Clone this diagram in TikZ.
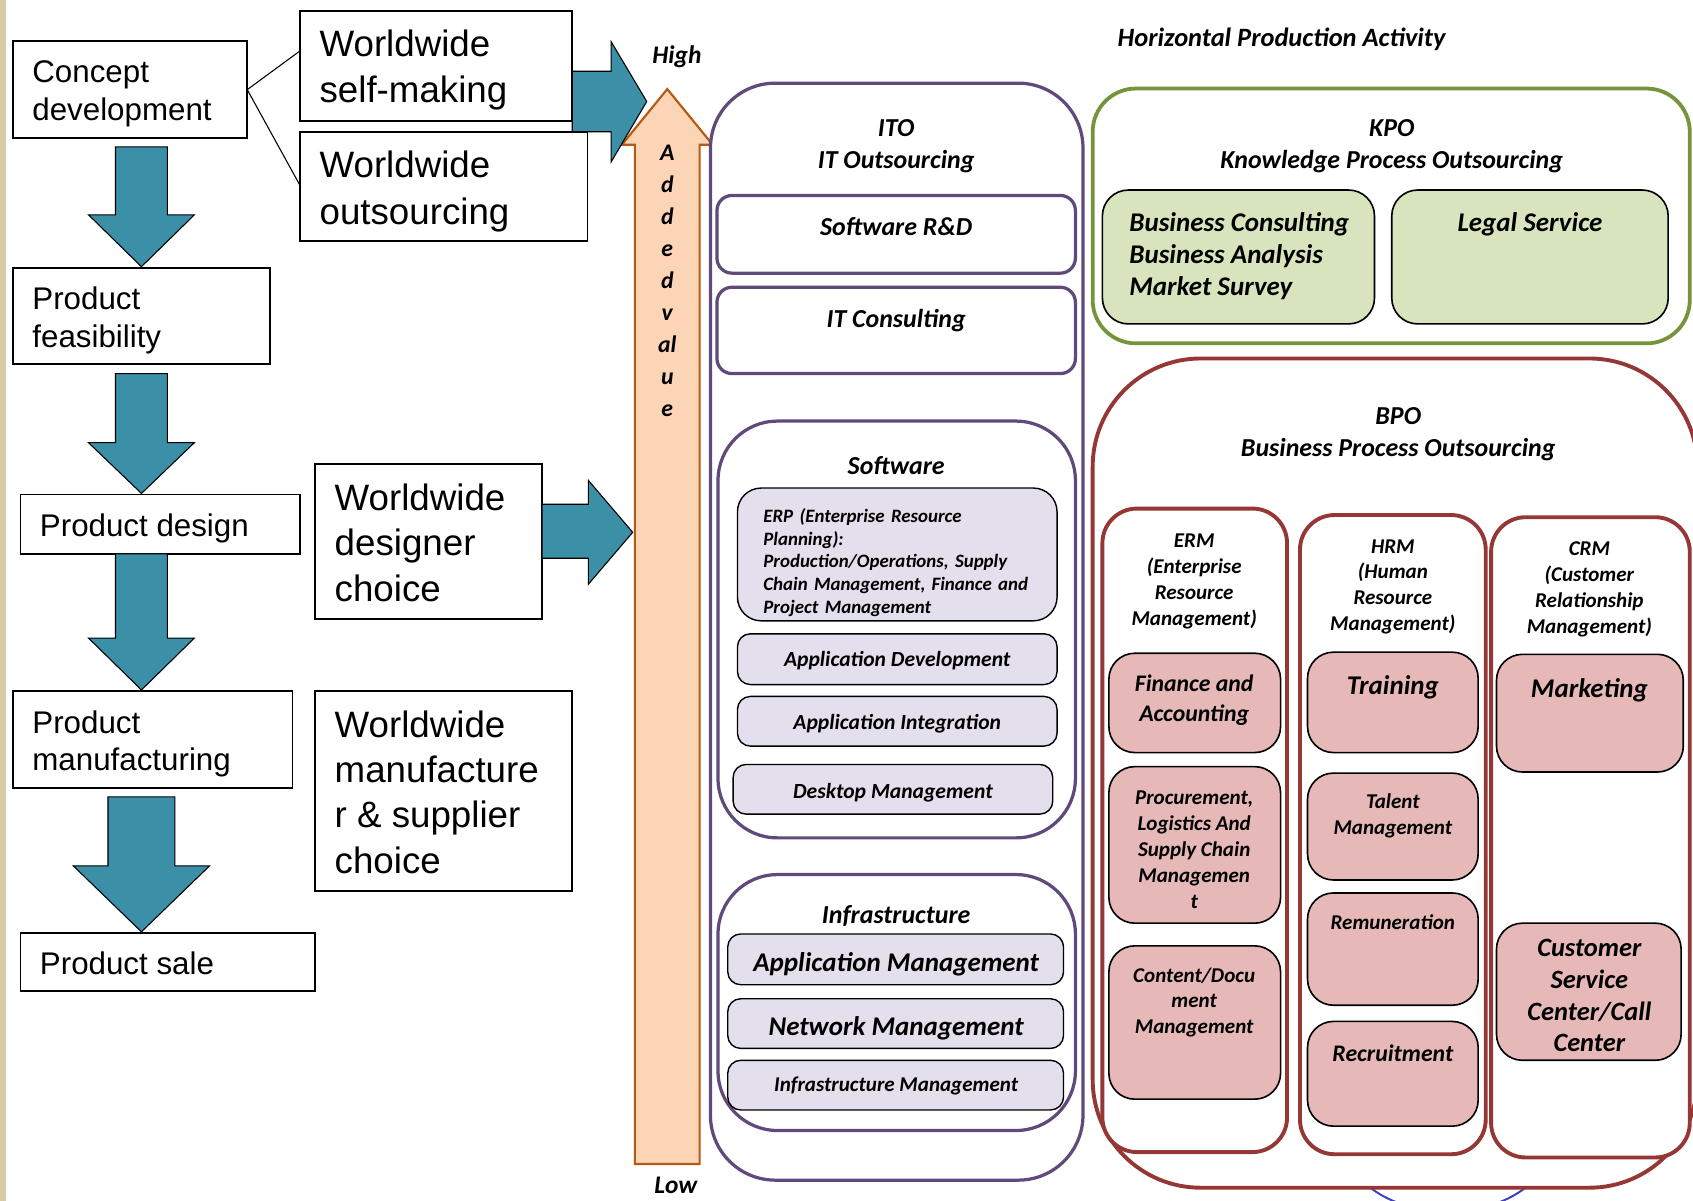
\documentclass[tikz,border=0pt]{standalone}
\usepackage{fontspec}
\setmainfont{Carlito}
\newfontfamily\arialf{Liberation Sans}
\usetikzlibrary{calc}
\definecolor{tealA}{HTML}{3B8FA6}
\definecolor{purpA}{HTML}{604A7B}
\definecolor{lavA}{HTML}{E4DFEC}
\definecolor{grnA}{HTML}{77933C}
\definecolor{grnF}{HTML}{D7E4BD}
\definecolor{redA}{HTML}{953735}
\definecolor{pinkF}{HTML}{E6B9B8}
\definecolor{peachF}{HTML}{FBD5B5}
\definecolor{brownA}{HTML}{B65A12}
\definecolor{beigeA}{HTML}{D8CBA6}
\definecolor{blueA}{HTML}{3B3FC4}
\newcommand\cfnt[2]{\fontsize{#1}{#2}\selectfont\bfseries\itshape}
\newcommand\afnt[2]{\arialf\fontsize{#1}{#2}\selectfont}
\begin{document}
\begin{tikzpicture}[x=1pt,y=-1pt,
  base/.style={inner sep=0pt,outer sep=0pt,anchor=north west},
  lbox/.style={base,draw=black,line width=1.5pt,fill=white},
  ltxt/.style={inner sep=0pt,outer sep=0pt,anchor=west,align=left},
  tealarr/.style={fill=tealA,draw=black,line width=1pt,line join=miter},
  pbox/.style={base,draw=purpA,line width=3pt,fill=white},
  lav/.style={base,draw=black,line width=1.3pt,fill=lavA,rounded corners=12pt},
  gbox/.style={base,draw=black,line width=1.5pt,fill=grnF,rounded corners=24pt},
  rcol/.style={base,draw=redA,line width=3.6pt,fill=white,rounded corners=32pt},
  pk/.style={base,draw=black,line width=1.5pt,fill=pinkF,rounded corners=24pt},
  txt/.style={inner sep=0pt,outer sep=0pt,align=center}]
\useasboundingbox (0,0) rectangle (1568,1112);
\clip (0,0) rectangle (1568,1112);
\fill[white] (0,0) rectangle (1568,1112);
\fill[beigeA] (0,0) rectangle (5.5,1112);

% ---------- left column ----------
\node[lbox,minimum width=217pt,minimum height=90pt] (cd) at (12,38) {};
\node[ltxt,font={\afnt{29}{35}}] (cdt) at ($(cd.west)+(18,4)$) {Concept\\development};
\node[lbox,minimum width=252pt,minimum height=102pt] (wsm) at (278,10) {};
\node[ltxt,font={\afnt{34}{43}}] (wsmt) at ($(wsm.west)+(18,4)$) {Worldwide\\self-making};
\node[lbox,minimum width=266pt,minimum height=101pt] (wo) at (278,122) {};
\node[ltxt,font={\afnt{34}{43}}] (wot) at ($(wo.west)+(18,5)$) {Worldwide\\outsourcing};
\node[lbox,minimum width=238pt,minimum height=89pt] (pf) at (12,248) {};
\node[ltxt,font={\afnt{29}{35}}] (pft) at ($(pf.west)+(18,4)$) {Product\\feasibility};
\node[lbox,minimum width=259pt,minimum height=55pt] (pd) at (19,458) {};
\node[ltxt,font={\afnt{29}{35}}] (pdt) at ($(pd.west)+(18,3.5)$) {Product design};
\node[lbox,minimum width=259pt,minimum height=90pt] (pm) at (12,640) {};
\node[ltxt,font={\afnt{29}{35}}] (pmt) at ($(pm.west)+(18,4)$) {Product\\manufacturing};
\node[lbox,minimum width=273pt,minimum height=54pt] (ps) at (19,864) {};
\node[ltxt,font={\afnt{29}{35}}] (pst) at ($(ps.west)+(18,1.5)$) {Product sale};
\node[lbox,minimum width=210pt,minimum height=143pt] (wdc) at (292,430) {};
\node[ltxt,font={\afnt{34}{42}}] (wdct) at ($(wdc.west)+(18,1)$) {Worldwide\\designer\\choice};
\node[lbox,minimum width=238pt,minimum height=185pt] (wmc) at (292,640) {};
\node[ltxt,font={\afnt{34}{42}}] (wmct) at ($(wmc.west)+(18,1)$) {Worldwide\\manufacture\\r \& supplier\\choice};

\draw[line width=1pt] (cd.east) -- ($(wsm.north west)!0.363!(wsm.south west)$);
\draw[line width=1pt] (cd.east) -- ($(wo.north west)!0.495!(wo.south west)$);

% teal down arrows
\draw[tealarr] (107,136) -- (155,136) -- (155,199) -- (180,199) -- (131,247) -- (82,199) -- (107,199) -- cycle;
\draw[tealarr] (107,346) -- (155,346) -- (155,410) -- (180,410) -- (131,457) -- (82,410) -- (107,410) -- cycle;
\draw[tealarr] (107,513) -- (155,513) -- (155,591) -- (180,591) -- (131,639) -- (82,591) -- (107,591) -- cycle;
\draw[tealarr] (100,738) -- (162,738) -- (162,802) -- (194,802) -- (131,863) -- (68,802) -- (100,802) -- cycle;

% orange added-value arrow
\draw[fill=peachF,draw=brownA,line width=2pt,line join=miter] (588,1078) -- (588,134) -- (576,134) -- (618,82.5) -- (660,134) -- (648,134) -- (648,1078) -- cycle;
\node[txt,font={\cfnt{22}{29.6}}] (av) at (618,260) {A\\d\\d\\e\\d\\v\\al\\u\\e};
\node[txt,font={\cfnt{23.5}{28}}] (high) at (627,53) {High};
\node[txt,font={\cfnt{23.5}{28}}] (low) at (626,1098) {Low};

% teal right arrows
\draw[tealarr] (502,467) -- (545,467) -- (545,445) -- (586,493) -- (545,541) -- (545,517) -- (502,517) -- cycle;
\draw[tealarr] (530,66) -- (566,66) -- (566,38.6) -- (599,94) -- (566,150) -- (566,122) -- (530,122) -- cycle;

% ---------- ITO ----------
\node[pbox,rounded corners=60pt,minimum width=345pt,minimum height=1016pt] (ito) at (658,77) {};
\node[txt,font={\cfnt{24}{30}}] (itot) at (830,135.5) {ITO\\IT Outsourcing};
\node[pbox,rounded corners=14pt,minimum width=332pt,minimum height=72pt] (srd) at (664,181) {};
\node[txt,font={\cfnt{24}{30}}] (srdt) at (830,209.5) {Software R\&D};
\node[pbox,rounded corners=14pt,minimum width=332pt,minimum height=80pt] (itc) at (664,266) {};
\node[txt,font={\cfnt{24}{30}}] (itct) at (830,297) {IT Consulting};
\node[pbox,rounded corners=55pt,minimum width=331pt,minimum height=386pt] (sw) at (665,390) {};
\node[txt,font={\cfnt{24}{30}}] (swt) at (830,431) {Software};
\node[lav,rounded corners=22pt,minimum width=296pt,minimum height=123pt] (erp) at (683,452) {};
\node[ltxt,text width=268pt,font={\cfnt{17.5}{21}}] (erpt) at (707,521) {ERP (Enterprise Resource\\Planning):\\Production/Operations, Supply\\Chain Management, Finance and\\Project Management};
\node[lav,minimum width=296pt,minimum height=47pt] (apd) at (683,587) {};
\node[txt,font={\cfnt{20}{24}}] (apdt) at (831,612) {Application Development};
\node[lav,minimum width=296pt,minimum height=46pt] (api) at (683,645) {};
\node[txt,font={\cfnt{20}{24}}] (apit) at (831,670) {Application Integration};
\node[lav,minimum width=296pt,minimum height=46pt] (dkm) at (679,708) {};
\node[txt,font={\cfnt{20}{24}}] (dkmt) at (827,734) {Desktop Management};
\node[pbox,rounded corners=55pt,minimum width=331pt,minimum height=237pt] (inf) at (665,810) {};
\node[txt,font={\cfnt{24}{30}}] (inft) at (830,848) {Infrastructure};
\node[lav,minimum width=311pt,minimum height=47pt] (apm) at (674,865) {};
\node[txt,font={\cfnt{25}{30}}] (apmt) at (830,893.5) {Application Management};
\node[lav,minimum width=311pt,minimum height=46pt] (nwm) at (674,925) {};
\node[txt,font={\cfnt{25}{30}}] (nwmt) at (830,952.5) {Network Management};
\node[lav,minimum width=311pt,minimum height=46pt] (ifm) at (674,982) {};
\node[txt,font={\cfnt{19.5}{24}}] (ifmt) at (830,1006) {Infrastructure Management};

% ---------- KPO ----------
\node[txt,font={\cfnt{24.5}{30}}] (hpa) at (1187,36) {Horizontal Production Activity};
\node[base,draw=grnA,line width=3.5pt,fill=white,rounded corners=40pt,minimum width=553pt,minimum height=236pt] (kpo) at (1012,82) {};
\node[txt,font={\cfnt{24}{30}}] (kpot) at (1289,135.5) {KPO\\Knowledge Process Outsourcing};
\node[gbox,minimum width=252pt,minimum height=124pt] (bus) at (1021,176) {};
\node[ltxt,font={\cfnt{25}{29.5}}] (bust) at (1046,237.5) {Business Consulting\\Business Analysis\\Market Survey};
\node[gbox,minimum width=256pt,minimum height=124pt] (leg) at (1289,176) {};
\node[txt,font={\cfnt{25}{30}}] (legt) at (1417,208) {Legal Service};

% ---------- BPO ----------
\draw[blueA,line width=1.8pt] (1341,1060) ellipse [x radius=94pt,y radius=62pt];
\node[base,draw=redA,line width=3.6pt,fill=white,rounded corners=100pt,minimum width=560pt,minimum height=768pt] (bpo) at (1012,332) {};
\node[txt,font={\cfnt{24}{29.5}}] (bpot) at (1295,402) {BPO\\Business Process Outsourcing};

\node[rcol,minimum width=171pt,minimum height=596pt] (erm) at (1021,471) {};
\node[txt,font={\cfnt{19.5}{24}}] (ermt) at (1106,538.5) {ERM\\(Enterprise\\Resource\\Management)};
\node[rcol,minimum width=172pt,minimum height=592pt] (hrm) at (1204,477) {};
\node[txt,font={\cfnt{19.5}{24}}] (hrmt) at (1290,543.5) {HRM\\(Human\\Resource\\Management)};
\node[rcol,minimum width=184pt,minimum height=593pt] (crm) at (1381,479) {};
\node[txt,font={\cfnt{19.5}{24}}] (crmt) at (1472,545.5) {CRM\\(Customer\\Relationship\\Management)};

\node[pk,minimum width=159pt,minimum height=92pt] (fa) at (1027,605) {};
\node[txt,font={\cfnt{22}{27}}] (fat) at (1106,648.5) {Finance and\\Accounting};
\node[pk,minimum width=159pt,minimum height=145pt] (proc) at (1027,710) {};
\node[txt,font={\cfnt{19.5}{24}}] (proct) at (1106,787) {Procurement,\\Logistics And\\Supply Chain\\Managemen\\t};
\node[pk,minimum width=159pt,minimum height=142pt] (cdm) at (1027,876) {};
\node[txt,font={\cfnt{19.5}{24}}] (cdmt) at (1106,928.5) {Content/Docu\\ment\\Management};

\node[pk,minimum width=158pt,minimum height=93pt] (tr) at (1211,604) {};
\node[txt,font={\cfnt{25}{30}}] (trt) at (1290,637) {Training};
\node[pk,minimum width=158pt,minimum height=99pt] (tm) at (1211,716) {};
\node[txt,font={\cfnt{19.5}{24}}] (tmt) at (1290,755.5) {Talent\\Management};
\node[pk,minimum width=158pt,minimum height=104pt] (rem) at (1211,827) {};
\node[txt,font={\cfnt{19.5}{24}}] (remt) at (1290,854.5) {Remuneration};
\node[pk,minimum width=158pt,minimum height=97pt] (rec) at (1211,946) {};
\node[txt,font={\cfnt{22}{27}}] (rect) at (1290,975.5) {Recruitment};

\node[pk,minimum width=173pt,minimum height=109pt] (mk) at (1386,606) {};
\node[txt,font={\cfnt{25}{30}}] (mkt) at (1472,639) {Marketing};
\node[pk,minimum width=171pt,minimum height=127pt] (cs) at (1386,855) {};
\node[txt,font={\cfnt{24.5}{29.5}}] (cst) at (1472,922) {Customer\\Service\\Center/Call\\Center};
\end{tikzpicture}
\end{document}
